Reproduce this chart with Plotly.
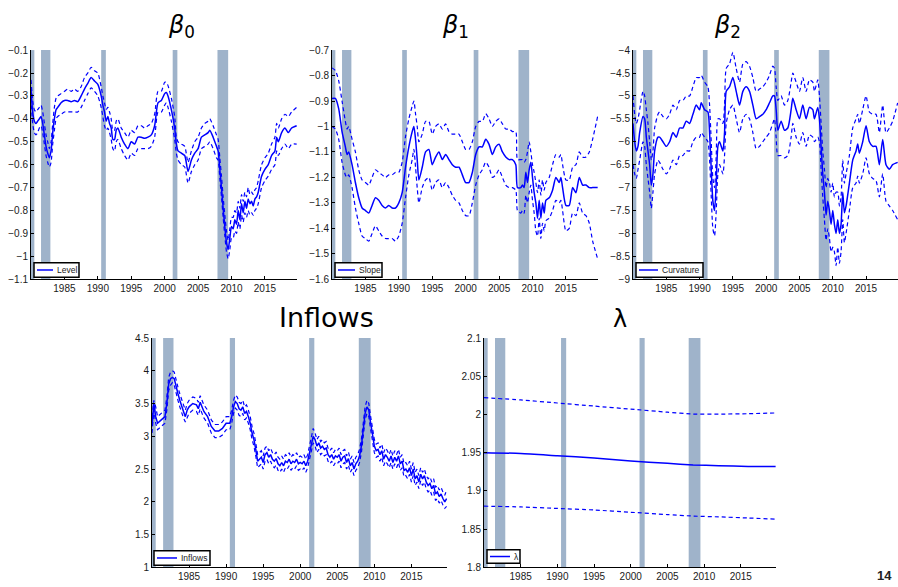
import plotly.graph_objects as go

# ---------------- data ----------------
REC_START = [1980.0, 1981.5, 1990.5, 2001.2, 2007.9]
REC_END = [1980.5, 1982.9, 1991.2, 2001.9, 2009.5]
X_TICKS = [1985, 1990, 1995, 2000, 2005, 2010, 2015]

# beta0 : Level
P1_X = [1980.0,1980.25,1980.5,1980.75,1981.0,1981.25,1981.5,1981.75,1982.0,1982.25,
        1982.5,1982.75,1983.0,1983.25,1983.5,1983.75,1984.0,1984.5,1985.0,1985.5,
        1986.0,1986.5,1987.0,1987.5,1988.0,1988.5,1989.0,1989.5,1990.0,1990.5,
        1990.75,1991.0,1991.25,1991.5,1991.75,1992.0,1992.25,1992.5,1992.75,1993.0,
        1993.5,1994.0,1994.5,1995.0,1995.5,1996.0,1996.5,1997.0,1997.5,1998.0,
        1998.5,1999.0,1999.5,2000.0,2000.25,2000.5,2001.0,2001.5,2001.75,2002.0,
        2002.5,2003.0,2003.5,2004.0,2004.5,2005.0,2005.5,2006.0,2006.5,2006.75,
        2007.25,2007.75,2008.0,2008.25,2008.5,2008.75,2009.0,2009.25,2009.5,2009.75,
        2010.0,2010.25,2010.5,2010.75,2011.0,2011.25,2011.5,2011.75,2012.0,2012.25,
        2012.5,2012.75,2013.0,2013.25,2013.5,2013.75,2014.0,2014.5,2015.0,2015.5,
        2016.0,2016.5,2016.75,2017.0,2017.5,2018.0,2018.5,2019.0,2019.75]
P1_MID = [-0.27,-0.37,-0.41,-0.42,-0.41,-0.40,-0.39,-0.42,-0.47,-0.52,
          -0.55,-0.57,-0.54,-0.46,-0.40,-0.36,-0.35,-0.33,-0.32,-0.32,
          -0.325,-0.32,-0.325,-0.30,-0.27,-0.245,-0.22,-0.235,-0.25,-0.30,
          -0.34,-0.37,-0.41,-0.39,-0.42,-0.44,-0.49,-0.49,-0.45,-0.44,
          -0.48,-0.51,-0.53,-0.50,-0.51,-0.48,-0.48,-0.485,-0.48,-0.47,
          -0.43,-0.33,-0.32,-0.29,-0.285,-0.30,-0.36,-0.44,-0.51,-0.54,
          -0.55,-0.56,-0.63,-0.58,-0.55,-0.53,-0.48,-0.47,-0.46,-0.45,
          -0.48,-0.52,-0.54,-0.62,-0.70,-0.79,-0.87,-0.94,-0.97,-0.92,
          -0.87,-0.88,-0.84,-0.86,-0.80,-0.84,-0.77,-0.81,-0.76,-0.79,
          -0.75,-0.77,-0.76,-0.78,-0.75,-0.74,-0.72,-0.65,-0.62,-0.60,
          -0.56,-0.54,-0.48,-0.50,-0.46,-0.44,-0.46,-0.44,-0.43]
P1_LO = [-0.31,-0.42,-0.46,-0.47,-0.46,-0.44,-0.43,-0.46,-0.51,-0.56,
         -0.59,-0.61,-0.59,-0.51,-0.45,-0.40,-0.39,-0.38,-0.37,-0.37,
         -0.37,-0.37,-0.37,-0.35,-0.32,-0.29,-0.265,-0.28,-0.30,-0.35,
         -0.39,-0.43,-0.45,-0.44,-0.46,-0.49,-0.53,-0.54,-0.50,-0.49,
         -0.53,-0.56,-0.58,-0.55,-0.56,-0.53,-0.53,-0.53,-0.53,-0.52,
         -0.48,-0.37,-0.37,-0.34,-0.33,-0.35,-0.41,-0.49,-0.55,-0.58,
         -0.60,-0.61,-0.68,-0.63,-0.60,-0.58,-0.53,-0.52,-0.51,-0.50,
         -0.53,-0.57,-0.58,-0.66,-0.74,-0.83,-0.91,-0.98,-1.01,-0.97,
         -0.92,-0.92,-0.89,-0.90,-0.85,-0.88,-0.82,-0.85,-0.81,-0.83,
         -0.80,-0.82,-0.81,-0.82,-0.80,-0.79,-0.77,-0.70,-0.67,-0.65,
         -0.62,-0.60,-0.54,-0.56,-0.53,-0.51,-0.53,-0.51,-0.51]
P1_HI = [-0.23,-0.32,-0.36,-0.37,-0.36,-0.35,-0.34,-0.37,-0.42,-0.47,
         -0.50,-0.53,-0.50,-0.42,-0.35,-0.31,-0.30,-0.29,-0.28,-0.27,
         -0.28,-0.27,-0.28,-0.26,-0.22,-0.20,-0.175,-0.19,-0.20,-0.26,
         -0.30,-0.33,-0.36,-0.35,-0.37,-0.40,-0.45,-0.45,-0.41,-0.40,
         -0.44,-0.46,-0.48,-0.45,-0.46,-0.43,-0.43,-0.44,-0.43,-0.42,
         -0.38,-0.28,-0.28,-0.24,-0.24,-0.255,-0.31,-0.39,-0.48,-0.50,
         -0.51,-0.52,-0.59,-0.54,-0.50,-0.48,-0.44,-0.42,-0.41,-0.40,
         -0.43,-0.47,-0.49,-0.57,-0.65,-0.74,-0.82,-0.89,-0.93,-0.88,
         -0.83,-0.83,-0.80,-0.81,-0.76,-0.79,-0.73,-0.76,-0.72,-0.74,
         -0.70,-0.73,-0.72,-0.73,-0.71,-0.70,-0.67,-0.60,-0.57,-0.55,
         -0.51,-0.48,-0.42,-0.44,-0.40,-0.38,-0.39,-0.37,-0.35]
P1_YTICKS = [-1.1,-1.0,-0.9,-0.8,-0.7,-0.6,-0.5,-0.4,-0.3,-0.2,-0.1]

# beta1 : Slope
P2_X = [1980.0,1980.5,1981.0,1981.5,1982.0,1982.25,1982.5,1983.0,1983.5,1984.0,
        1984.5,1985.0,1985.5,1986.0,1986.5,1987.0,1987.5,1988.0,1988.5,1989.0,
        1989.5,1990.0,1990.5,1991.0,1991.5,1992.0,1992.25,1992.5,1992.75,1993.0,
        1993.5,1994.0,1994.5,1995.0,1995.5,1996.0,1996.5,1997.0,1997.5,1998.0,
        1998.5,1999.0,1999.5,2000.0,2000.5,2001.0,2001.5,2002.0,2002.5,2003.0,
        2003.5,2004.0,2004.5,2005.0,2005.5,2006.0,2006.5,2007.0,2007.5,2007.75,
        2008.25,2008.5,2008.75,2009.0,2009.25,2009.5,2009.75,2010.0,2010.25,2010.5,
        2010.75,2011.0,2011.25,2011.5,2011.75,2012.0,2012.5,2013.0,2013.5,2014.0,
        2014.25,2014.5,2015.0,2015.5,2016.0,2016.5,2017.0,2017.5,2018.0,2018.5,
        2019.0,2019.75]
P2_MID = [-0.89,-0.89,-0.93,-1.02,-1.08,-1.11,-1.10,-1.15,-1.22,-1.28,
          -1.32,-1.33,-1.34,-1.31,-1.28,-1.29,-1.31,-1.32,-1.31,-1.32,
          -1.32,-1.30,-1.26,-1.16,-1.08,-1.02,-1.00,-1.05,-1.13,-1.21,
          -1.16,-1.10,-1.09,-1.15,-1.12,-1.10,-1.13,-1.11,-1.13,-1.15,
          -1.16,-1.16,-1.19,-1.22,-1.22,-1.18,-1.11,-1.08,-1.08,-1.05,
          -1.07,-1.11,-1.08,-1.07,-1.10,-1.12,-1.13,-1.13,-1.15,-1.24,
          -1.24,-1.23,-1.24,-1.18,-1.22,-1.17,-1.14,-1.20,-1.26,-1.30,
          -1.36,-1.29,-1.36,-1.30,-1.34,-1.29,-1.28,-1.25,-1.20,-1.22,
          -1.20,-1.24,-1.31,-1.31,-1.24,-1.26,-1.20,-1.23,-1.23,-1.24,
          -1.24,-1.24]
P2_LO = [-1.00,-1.01,-1.05,-1.14,-1.19,-1.20,-1.19,-1.24,-1.32,-1.38,
         -1.43,-1.44,-1.45,-1.42,-1.39,-1.41,-1.43,-1.44,-1.44,-1.44,
         -1.45,-1.43,-1.38,-1.28,-1.19,-1.13,-1.09,-1.16,-1.24,-1.30,
         -1.24,-1.21,-1.20,-1.25,-1.22,-1.21,-1.24,-1.22,-1.24,-1.27,
         -1.29,-1.30,-1.33,-1.35,-1.35,-1.30,-1.23,-1.19,-1.17,-1.14,
         -1.16,-1.20,-1.19,-1.17,-1.20,-1.23,-1.24,-1.24,-1.25,-1.33,
         -1.34,-1.33,-1.34,-1.27,-1.30,-1.26,-1.23,-1.29,-1.34,-1.41,
         -1.43,-1.36,-1.44,-1.38,-1.41,-1.37,-1.36,-1.33,-1.29,-1.30,
         -1.29,-1.33,-1.41,-1.40,-1.34,-1.35,-1.30,-1.34,-1.35,-1.38,
         -1.45,-1.52]
P2_HI = [-0.77,-0.78,-0.82,-0.90,-0.98,-1.01,-1.00,-1.05,-1.10,-1.17,
         -1.21,-1.22,-1.23,-1.20,-1.17,-1.18,-1.19,-1.20,-1.19,-1.19,
         -1.18,-1.18,-1.14,-1.04,-0.97,-0.92,-0.90,-0.95,-1.00,-1.06,
         -1.03,-0.98,-0.98,-1.03,-1.00,-0.99,-1.01,-0.99,-1.02,-1.03,
         -1.03,-1.03,-1.06,-1.09,-1.09,-1.06,-1.00,-0.98,-0.98,-0.95,
         -0.97,-1.00,-0.98,-0.97,-0.99,-1.01,-1.01,-1.02,-1.02,-1.13,
         -1.13,-1.13,-1.14,-1.13,-1.10,-1.06,-1.10,-1.15,-1.18,-1.22,
         -1.26,-1.21,-1.27,-1.21,-1.25,-1.22,-1.20,-1.15,-1.11,-1.12,
         -1.11,-1.15,-1.21,-1.21,-1.16,-1.15,-1.10,-1.12,-1.12,-1.10,
         -1.05,-0.96]
P2_YTICKS = [-1.6,-1.5,-1.4,-1.3,-1.2,-1.1,-1.0,-0.9,-0.8,-0.7]

# beta2 : Curvature
P3_X = [1980.0,1980.25,1980.5,1980.75,1981.0,1981.5,1981.75,1982.0,1982.25,1982.5,
        1982.75,1983.0,1983.25,1983.75,1984.0,1984.5,1985.0,1985.5,1986.0,1986.5,
        1987.0,1987.5,1988.0,1988.5,1989.0,1989.5,1990.0,1990.25,1990.75,1991.25,
        1991.5,1991.75,1992.0,1992.25,1992.5,1992.75,1993.0,1993.5,1993.75,1994.0,
        1994.5,1995.0,1995.5,1996.0,1996.5,1997.0,1997.5,1998.0,1998.5,1999.0,
        1999.5,2000.0,2000.5,2001.0,2001.25,2001.5,2001.75,2002.25,2002.75,2003.25,
        2003.75,2004.0,2004.5,2005.0,2005.5,2006.0,2006.5,2007.0,2007.25,2007.75,
        2008.0,2008.25,2008.5,2008.75,2009.0,2009.25,2009.5,2009.75,2010.0,2010.25,
        2010.5,2010.75,2011.0,2011.25,2011.5,2011.75,2012.0,2012.5,2013.0,2013.5,
        2013.75,2014.0,2014.5,2015.0,2015.5,2016.0,2016.5,2017.0,2017.5,2018.0,
        2018.5,2019.0,2019.75]
P3_MID = [-5.6,-6.0,-6.2,-6.1,-5.8,-5.45,-5.5,-5.9,-6.2,-6.5,
          -6.95,-6.7,-6.2,-5.9,-5.9,-6.0,-6.1,-6.0,-5.8,-5.9,
          -5.7,-5.7,-5.55,-5.6,-5.4,-5.2,-5.3,-5.15,-5.3,-5.35,
          -5.8,-6.6,-7.3,-7.5,-6.9,-6.1,-6.0,-6.2,-5.8,-4.9,
          -4.8,-4.6,-4.9,-5.2,-4.9,-4.8,-4.9,-5.2,-5.5,-5.45,
          -5.4,-5.3,-5.15,-5.0,-5.0,-5.3,-5.75,-5.55,-5.75,-5.7,
          -5.3,-5.05,-5.3,-5.5,-5.2,-5.5,-5.25,-5.3,-5.5,-5.25,
          -5.5,-6.1,-6.7,-7.1,-7.6,-7.3,-7.5,-7.8,-7.5,-7.8,
          -8.0,-7.7,-8.0,-7.8,-7.1,-7.55,-7.4,-6.9,-6.4,-6.2,
          -6.05,-6.25,-6.0,-5.65,-6.0,-6.1,-6.1,-6.5,-5.95,-6.5,
          -6.6,-6.5,-6.45]
P3_LO = [-6.5,-6.7,-6.8,-6.6,-6.4,-6.0,-6.1,-6.5,-6.8,-7.1,
         -7.45,-7.1,-6.7,-6.4,-6.45,-6.6,-6.7,-6.6,-6.4,-6.5,
         -6.3,-6.3,-6.2,-6.2,-6.0,-5.9,-5.9,-5.8,-5.9,-6.0,
         -6.4,-7.2,-7.9,-8.05,-7.5,-6.7,-6.5,-6.7,-6.3,-5.6,
         -5.3,-5.2,-5.5,-5.8,-5.5,-5.4,-5.5,-5.8,-6.15,-6.1,
         -6.0,-5.9,-5.8,-5.6,-5.5,-5.9,-6.3,-6.3,-6.35,-6.3,
         -5.9,-5.6,-5.9,-6.05,-5.8,-6.1,-5.85,-5.9,-6.0,-5.9,
         -6.0,-6.6,-7.2,-7.7,-8.15,-7.9,-8.1,-8.4,-8.3,-8.4,
         -8.7,-8.3,-8.65,-8.4,-7.7,-8.2,-8.0,-7.5,-7.0,-6.9,
         -6.75,-6.9,-6.7,-6.35,-6.7,-6.8,-6.85,-7.2,-6.7,-7.3,
         -7.4,-7.5,-7.7]
P3_HI = [-5.0,-5.4,-5.6,-5.5,-5.3,-4.9,-5.0,-5.3,-5.6,-6.0,
         -6.4,-6.2,-5.7,-5.4,-5.35,-5.45,-5.5,-5.4,-5.2,-5.3,
         -5.1,-5.1,-5.0,-5.0,-4.8,-4.6,-4.6,-4.55,-4.7,-4.8,
         -5.2,-6.0,-6.8,-7.0,-6.3,-5.5,-5.5,-5.6,-5.2,-4.4,
         -4.3,-4.05,-4.4,-4.7,-4.3,-4.25,-4.35,-4.6,-4.9,-4.85,
         -4.8,-4.7,-4.55,-4.35,-4.4,-4.8,-5.1,-5.0,-5.2,-5.1,
         -4.7,-4.5,-4.7,-4.9,-4.6,-4.9,-4.65,-4.7,-4.9,-4.65,
         -5.0,-5.6,-6.2,-6.6,-7.0,-6.8,-6.9,-7.1,-6.9,-7.2,
         -7.1,-7.1,-7.4,-7.2,-6.4,-6.9,-6.7,-6.3,-5.7,-5.5,
         -5.4,-5.6,-5.3,-5.0,-5.35,-5.4,-5.4,-5.8,-5.2,-5.8,
         -5.7,-5.55,-5.15]
P3_YTICKS = [-9,-8.5,-8,-7.5,-7,-6.5,-6,-5.5,-5,-4.5,-4]

# Inflows
P4_X = [1980.0,1980.25,1980.5,1980.75,1981.25,1981.75,1982.0,1982.25,1982.5,1982.75,
        1983.0,1983.25,1983.5,1983.75,1984.0,1984.25,1984.5,1984.75,1985.0,1985.5,
        1986.0,1986.25,1986.5,1986.75,1987.0,1987.5,1987.75,1988.0,1988.5,1989.0,
        1989.5,1990.0,1990.5,1990.75,1991.0,1991.25,1991.5,1991.75,1992.0,1992.25,
        1992.5,1992.75,1993.0,1993.25,1993.5,1993.75,1994.0,1994.25,1994.5,1994.75,
        1995.0,1995.25,1995.5,1995.75,1996.0,1996.25,1996.5,1996.75,1997.0,1997.25,
        1997.5,1997.75,1998.0,1998.25,1998.5,1998.75,1999.0,1999.25,1999.5,1999.75,
        2000.0,2000.25,2000.5,2000.75,2001.0,2001.25,2001.5,2001.75,2002.0,2002.25,
        2002.5,2002.75,2003.0,2003.25,2003.5,2003.75,2004.0,2004.25,2004.5,2004.75,
        2005.0,2005.25,2005.5,2005.75,2006.0,2006.25,2006.5,2006.75,2007.0,2007.25,
        2007.5,2007.75,2008.0,2008.25,2008.5,2008.75,2009.0,2009.25,2009.5,2009.75,
        2010.0,2010.25,2010.5,2010.75,2011.0,2011.25,2011.5,2011.75,2012.0,2012.25,
        2012.5,2012.75,2013.0,2013.25,2013.5,2013.75,2014.0,2014.25,2014.5,2014.75,
        2015.0,2015.25,2015.5,2015.75,2016.0,2016.25,2016.5,2016.75,2017.0,2017.25,
        2017.5,2017.75,2018.0,2018.25,2018.5,2018.75,2019.0,2019.25,2019.5,2019.75]
P4_MID = [3.15,3.5,3.3,3.2,3.25,3.3,3.5,3.8,3.88,3.9,
          3.88,3.75,3.65,3.55,3.45,3.38,3.3,3.4,3.45,3.5,
          3.48,3.42,3.52,3.45,3.38,3.3,3.22,3.15,3.08,3.08,
          3.12,3.2,3.2,3.3,3.45,3.53,3.5,3.42,3.4,3.45,
          3.35,3.38,3.3,3.2,3.05,2.95,2.8,2.62,2.65,2.68,
          2.6,2.72,2.75,2.68,2.72,2.65,2.62,2.66,2.58,2.55,
          2.6,2.55,2.62,2.6,2.65,2.58,2.62,2.6,2.65,2.58,
          2.6,2.58,2.62,2.55,2.62,2.75,2.9,3.0,2.95,2.85,
          2.9,2.82,2.85,2.8,2.82,2.72,2.68,2.72,2.65,2.7,
          2.68,2.72,2.62,2.68,2.7,2.6,2.66,2.55,2.6,2.5,
          2.58,2.62,2.7,2.85,3.1,3.35,3.45,3.4,3.2,3.0,
          2.85,2.78,2.8,2.72,2.78,2.65,2.72,2.68,2.62,2.7,
          2.6,2.68,2.62,2.7,2.58,2.62,2.48,2.5,2.45,2.52,
          2.4,2.5,2.35,2.4,2.3,2.42,2.35,2.4,2.3,2.25,
          2.28,2.2,2.25,2.12,2.15,2.08,2.12,2.05,2.0,2.05]
P4_LO = [3.05,3.4,3.2,3.1,3.15,3.2,3.4,3.7,3.78,3.82,
         3.78,3.65,3.55,3.45,3.35,3.28,3.22,3.3,3.35,3.4,
         3.38,3.32,3.42,3.35,3.28,3.2,3.12,3.05,2.98,2.98,
         3.02,3.1,3.1,3.2,3.35,3.43,3.4,3.32,3.3,3.35,
         3.25,3.28,3.2,3.1,2.95,2.85,2.7,2.52,2.55,2.58,
         2.5,2.62,2.65,2.58,2.62,2.55,2.52,2.56,2.48,2.45,
         2.5,2.45,2.52,2.5,2.55,2.48,2.52,2.5,2.55,2.48,
         2.5,2.48,2.52,2.45,2.52,2.65,2.8,2.9,2.85,2.75,
         2.8,2.72,2.75,2.7,2.72,2.62,2.58,2.62,2.55,2.6,
         2.58,2.62,2.52,2.58,2.6,2.5,2.56,2.45,2.5,2.4,
         2.48,2.52,2.6,2.75,3.0,3.25,3.35,3.3,3.1,2.9,
         2.75,2.68,2.7,2.62,2.68,2.55,2.62,2.58,2.52,2.6,
         2.5,2.58,2.52,2.6,2.48,2.52,2.38,2.4,2.35,2.42,
         2.3,2.4,2.25,2.3,2.2,2.32,2.25,2.3,2.2,2.15,
         2.18,2.1,2.15,2.02,2.05,1.98,2.02,1.95,1.9,1.93]
P4_HI = [3.3,3.55,3.45,3.3,3.35,3.4,3.6,3.9,3.98,4.0,
         3.98,3.85,3.75,3.65,3.55,3.48,3.4,3.5,3.55,3.6,
         3.58,3.52,3.62,3.55,3.48,3.4,3.32,3.25,3.18,3.18,
         3.22,3.3,3.3,3.4,3.55,3.63,3.6,3.52,3.5,3.55,
         3.45,3.48,3.4,3.3,3.15,3.05,2.9,2.72,2.75,2.78,
         2.7,2.82,2.85,2.78,2.82,2.75,2.72,2.76,2.68,2.65,
         2.7,2.65,2.72,2.7,2.75,2.68,2.72,2.7,2.75,2.68,
         2.7,2.68,2.72,2.65,2.72,2.85,3.0,3.12,3.05,2.95,
         3.0,2.92,2.95,2.9,2.92,2.82,2.78,2.82,2.75,2.8,
         2.78,2.82,2.72,2.78,2.8,2.7,2.76,2.65,2.7,2.6,
         2.68,2.72,2.8,2.95,3.2,3.45,3.55,3.5,3.3,3.1,
         2.95,2.88,2.9,2.82,2.88,2.75,2.82,2.78,2.72,2.8,
         2.7,2.78,2.72,2.8,2.68,2.72,2.58,2.6,2.55,2.62,
         2.5,2.6,2.45,2.5,2.4,2.52,2.45,2.5,2.4,2.35,
         2.38,2.3,2.35,2.22,2.25,2.18,2.22,2.15,2.1,2.18]
P4_YTICKS = [1, 1.5, 2, 2.5, 3, 3.5, 4, 4.5]

# lambda
P5_X = [1980.0, 1985.0, 1990.0, 1995.0, 2000.0, 2005.0, 2008.5, 2012.0, 2016.0, 2019.75]
P5_MID = [1.950, 1.949, 1.946, 1.943, 1.939, 1.936, 1.934, 1.933, 1.932, 1.932]
P5_LO = [1.880, 1.879, 1.877, 1.875, 1.872, 1.869, 1.867, 1.866, 1.8645, 1.863]
P5_HI = [2.022, 2.019, 2.015, 2.011, 2.007, 2.003, 2.0005, 2.0005, 2.001, 2.002]
P5_YTICKS = [1.8, 1.85, 1.9, 1.95, 2.0, 2.05, 2.1]

LEGEND_NAMES = ["Level", "Slope", "Curvature", "Inflows", "λ"]
TITLES = ["<i>β</i><sub>0</sub>", "<i>β</i><sub>1</sub>", "<i>β</i><sub>2</sub>", "Inflows", "λ"]

# ---------------- layout helpers ----------------
W, H = 898, 587
def fx(p):
    return p / W
def fy(p):
    return 1 - p / H

# plot area boxes in pixels: (left, top, right, bottom)
BOXES = [(31, 45, 297, 279), (332, 45, 598, 279), (633, 45, 898, 279),
         (152, 339, 447, 573), (484, 339, 776, 573)]
YRANGES = [(-1.1, -0.1), (-1.6, -0.7), (-9, -4), (1, 4.5), (1.8, 2.1)]
# legend boxes (left, top, right, bottom), line end, text start
LEGBOX = [(34, 262, 79, 277, 53, 55), (335, 262, 382, 277, 355, 357),
          (636, 262, 703, 277, 658, 660), (154, 556, 210, 571, 177, 179),
          (487, 555, 520, 569, 510, 512)]
TITLE_POS = [(181, 21, 24), (455, 21, 24), (727, 21, 24), (326, 318, 27), (620, 320, 24)]

SERIES = [(P1_X, P1_MID, P1_LO, P1_HI, P1_YTICKS),
          (P2_X, P2_MID, P2_LO, P2_HI, P2_YTICKS),
          (P3_X, P3_MID, P3_LO, P3_HI, P3_YTICKS),
          (P4_X, P4_MID, P4_LO, P4_HI, P4_YTICKS),
          (P5_X, P5_MID, P5_LO, P5_HI, P5_YTICKS)]

BLUE = "#0000ff"
BAND = "#9fb3ca"
FONT = "Liberation Sans, Arial, sans-serif"

def fmt(v):
    s = ("%g" % v)
    return s.replace("-", "\u2212")

fig = go.Figure()
shapes = []
annotations = []
layout = {}

for i, (xs, mid, lo, hi, yt) in enumerate(SERIES):
    n = "" if i == 0 else str(i + 1)
    xa, ya = "x" + n, "y" + n
    spline = dict(shape="spline", smoothing=0.6) if i in (0, 1, 2, 4) else dict(shape="linear")
    for band in (lo, hi):
        fig.add_trace(go.Scatter(x=xs, y=band, mode="lines", xaxis=xa, yaxis=ya,
                                 line=dict(color=BLUE, width=1.2, dash="4px,3px", **spline),
                                 showlegend=False, hoverinfo="skip"))
    fig.add_trace(go.Scatter(x=xs, y=mid, mode="lines", xaxis=xa, yaxis=ya,
                             line=dict(color=BLUE, width=1.5, **spline),
                             showlegend=False))
    l, t, r, b = BOXES[i]
    common = dict(showline=True, linecolor="black", linewidth=1, ticks="inside",
                  ticklen=3, tickcolor="black", showgrid=False, zeroline=False,
                  tickfont=dict(family=FONT, size=10, color="#1a1a1a"))
    layout["xaxis" + n] = dict(domain=[fx(l), fx(r)], anchor=ya, range=[1980, 2019.8],
                               tickvals=X_TICKS, ticktext=[str(v) for v in X_TICKS], **common)
    layout["yaxis" + n] = dict(domain=[fy(b), fy(t)], anchor=xa, range=list(YRANGES[i]),
                               tickvals=yt, ticktext=[fmt(v) for v in yt], **common)
    for s0, s1 in zip(REC_START, REC_END):
        shapes.append(dict(type="rect", xref=xa, yref=ya + " domain", x0=s0, x1=s1,
                           y0=0, y1=1, fillcolor=BAND, line=dict(width=0), layer="below"))
    # legend
    bl, bt, br, bb, le, ts = LEGBOX[i]
    shapes.append(dict(type="rect", xref="paper", yref="paper", x0=fx(bl), x1=fx(br),
                       y0=fy(bb), y1=fy(bt), fillcolor="white",
                       line=dict(color="black", width=1.5)))
    ym = (bt + bb) / 2
    shapes.append(dict(type="line", xref="paper", yref="paper", x0=fx(bl + 3), x1=fx(le),
                       y0=fy(ym), y1=fy(ym), line=dict(color=BLUE, width=1.5)))
    annotations.append(dict(xref="paper", yref="paper", x=fx(ts), y=fy(ym), text=LEGEND_NAMES[i],
                            showarrow=False, xanchor="left", yanchor="middle",
                            font=dict(family=FONT, size=8.5, color="#222")))
    # title
    tx, ty, ts_ = TITLE_POS[i]
    annotations.append(dict(xref="paper", yref="paper", x=fx(tx), y=fy(ty), text=TITLES[i],
                            showarrow=False, xanchor="center", yanchor="middle",
                            font=dict(family="DejaVu Sans, sans-serif", size=ts_, color="black")))

annotations.append(dict(xref="paper", yref="paper", x=fx(884), y=fy(581), text="<b>14</b>",
                        showarrow=False, xanchor="center", yanchor="middle",
                        font=dict(family=FONT, size=13, color="#222")))

fig.update_layout(width=W, height=H, margin=dict(l=0, r=0, t=0, b=0),
                  paper_bgcolor="white", plot_bgcolor="white",
                  shapes=shapes, annotations=annotations, showlegend=False, **layout)

fig.write_html("out.html", config={"displayModeBar": False},
               post_script="document.body.style.margin='0';document.body.style.overflow='hidden';")
